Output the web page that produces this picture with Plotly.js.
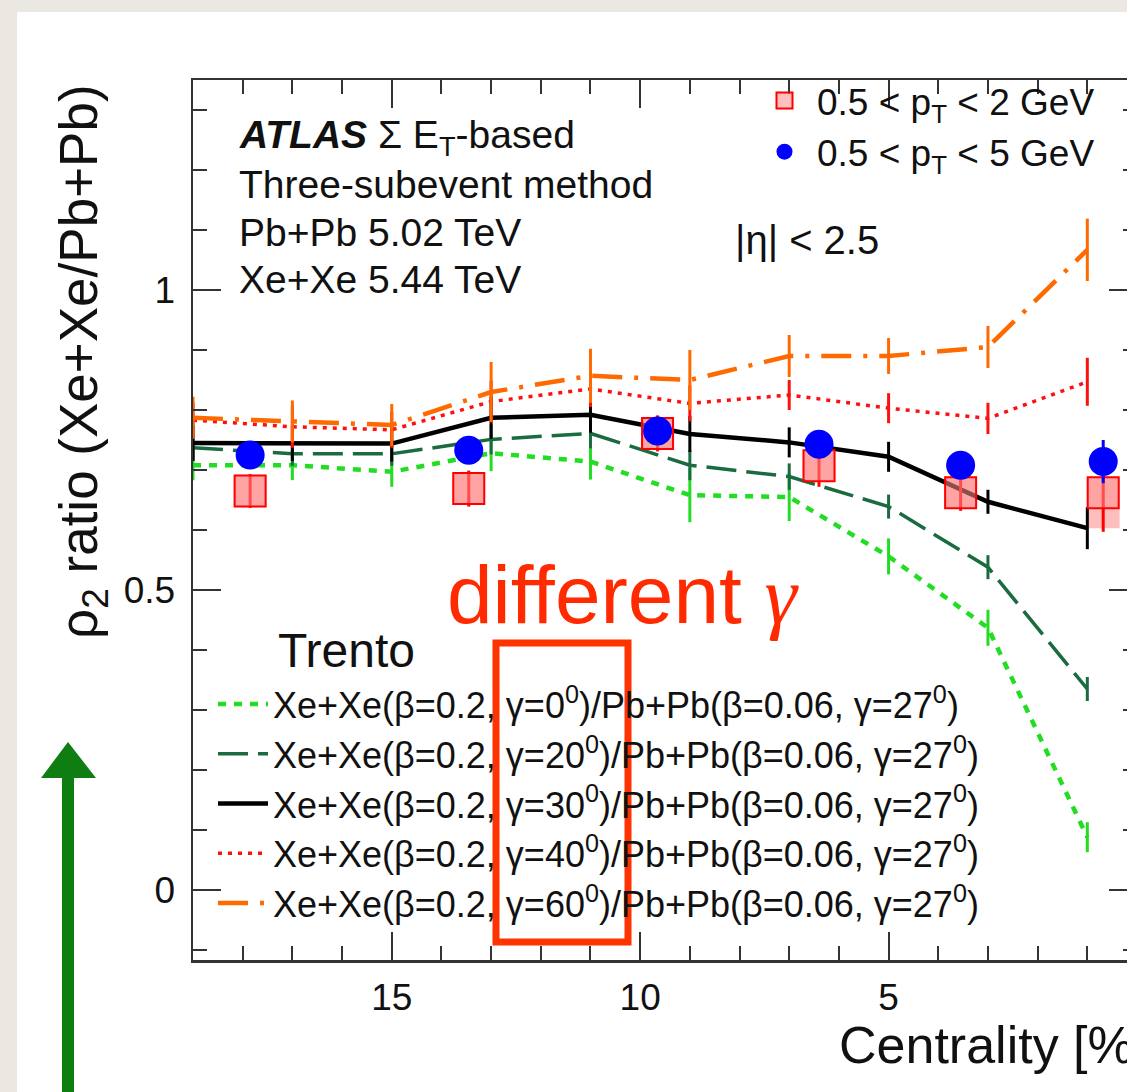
<!DOCTYPE html>
<html>
<head>
<meta charset="utf-8">
<script src="https://cdn.plot.ly/plotly-3.0.1.min.js"></script>
<style>
  html, body { margin:0; padding:0; width:1127px; height:1092px; overflow:hidden; background:#ebe8e2; }
  #panel { position:absolute; left:17px; top:12px; width:1200px; height:1200px; background:#ffffff; }
  #chart { position:absolute; left:0; top:0; width:1160px; height:1092px; }
</style>
</head>
<body>
<div id="panel"></div>
<div id="chart"></div>
<script>
// ---- Trento model curves (centrality %, ratio) ----
const trentoX = [19, 17, 15, 13, 11, 9, 7, 5, 3, 1];
const gamma0  = [0.708, 0.708, 0.697, 0.728, 0.714, 0.658, 0.655, 0.556, 0.437, 0.088];
const gamma0Err  = [0.025, 0.025, 0.025, 0.03, 0.03, 0.045, 0.04, 0.03, 0.03, 0.025];
const gamma20 = [0.737, 0.727, 0.727, 0.751, 0.761, 0.708, 0.689, 0.639, 0.538, 0.335];
const gamma20Err = [0.02, 0.02, 0.02, 0.025, 0.025, 0.025, 0.022, 0.02, 0.02, 0.02];
const gamma30 = [0.745, 0.745, 0.744, 0.787, 0.792, 0.760, 0.746, 0.722, 0.647, 0.603];
const gamma30Err = [0.03, 0.03, 0.03, 0.035, 0.03, 0.03, 0.025, 0.025, 0.02, 0.035];
const gamma40 = [0.783, 0.772, 0.767, 0.814, 0.835, 0.811, 0.825, 0.803, 0.786, 0.847];
const gamma40Err = [0.03, 0.035, 0.03, 0.035, 0.03, 0.03, 0.025, 0.025, 0.026, 0.04];
const gamma60 = [0.787, 0.781, 0.775, 0.830, 0.857, 0.850, 0.890, 0.890, 0.905, 1.067];
const gamma60Err = [0.035, 0.035, 0.035, 0.05, 0.045, 0.05, 0.035, 0.03, 0.035, 0.052];

const trentoNames = [
  "Xe+Xe(β=0.2, γ=0<sup>0</sup>)/Pb+Pb(β=0.06, γ=27<sup>0</sup>)",
  "Xe+Xe(β=0.2, γ=20<sup>0</sup>)/Pb+Pb(β=0.06, γ=27<sup>0</sup>)",
  "Xe+Xe(β=0.2, γ=30<sup>0</sup>)/Pb+Pb(β=0.06, γ=27<sup>0</sup>)",
  "Xe+Xe(β=0.2, γ=40<sup>0</sup>)/Pb+Pb(β=0.06, γ=27<sup>0</sup>)",
  "Xe+Xe(β=0.2, γ=60<sup>0</sup>)/Pb+Pb(β=0.06, γ=27<sup>0</sup>)"
];

// ---- ATLAS data ----
const atlasX = [17.85, 13.45, 9.65, 6.4, 3.55, 0.68];
const ptLow  = [0.665, 0.669, 0.761, 0.707, 0.662, 0.662];   // 0.5<pT<2 GeV
const ptLowErr = [0.028, 0.03, 0.03, 0.035, 0.03, 0.065];
const ptLowSysLo = [0.638, 0.642, 0.734, 0.680, 0.635, 0.603];
const ptLowSysHi = [0.692, 0.696, 0.788, 0.734, 0.689, 0.687];
const ptHigh = [0.725, 0.733, 0.765, 0.743, 0.708, 0.714];   // 0.5<pT<5 GeV
const ptHighErr = [0.01, 0.01, 0.01, 0.01, 0.01, 0.036];
const atlasNames = ["0.5 < p<sub>T</sub> < 2 GeV", "0.5 < p<sub>T</sub> < 5 GeV"];

const FONT = "Liberation Sans, Arial, Helvetica, sans-serif";

function line(y, err, name, color, dash, width) {
  return {
    x: trentoX, y: y, name: name, type: "scatter", mode: "lines",
    line: {color: color, dash: dash, width: width},
    error_y: {type: "data", array: err, color: color, thickness: 3, width: 0},
    legend: "legend", hoverinfo: "skip"
  };
}

const traces = [
  {
    x: atlasX, y: ptLowSysHi.map((h, i) => h - ptLowSysLo[i]), base: ptLowSysLo,
    type: "bar", width: 0.66, marker: {color: "rgba(255,110,110,0.45)", line: {width: 0}},
    showlegend: false, hoverinfo: "skip"
  },
  line(gamma0,  gamma0Err,  trentoNames[0], "#22dd22", "8px,8px", 4.5),
  line(gamma20, gamma20Err, trentoNames[1], "#1a6b40", "30px,10px", 3.5),
  line(gamma30, gamma30Err, trentoNames[2], "#000000", "solid", 4.5),
  line(gamma40, gamma40Err, trentoNames[3], "#ff1010", "4px,6px", 3.5),
  line(gamma60, gamma60Err, trentoNames[4], "#ff6a00", "30px,12px,4px,12px", 4.5),
  {
    x: atlasX, y: ptLow, name: atlasNames[0], type: "scatter", mode: "markers",
    marker: {symbol: "square", size: 31, color: "rgba(255,140,140,0.55)", line: {color: "#ff0000", width: 2}},
    error_y: {type: "data", array: ptLowErr, color: "#ff0000", thickness: 3, width: 0},
    legend: "legend2", hoverinfo: "skip"
  },
  {
    x: atlasX, y: ptHigh, name: atlasNames[1], type: "scatter", mode: "markers",
    marker: {symbol: "circle", size: 29, color: "#0000ff", line: {width: 0}},
    error_y: {type: "data", array: ptHighErr, color: "#0000ff", thickness: 3, width: 0},
    legend: "legend2", hoverinfo: "skip"
  }
];

// pixel -> paper helpers (plot area: x 193..1137, y 80..960)
const PX = x => (x - 193) / 944;
const PY = y => (960 - y) / 880;

const txt = (text, x, y, size, extra) => Object.assign({
  text: text, x: PX(x), y: PY(y), xref: "paper", yref: "paper",
  xanchor: "left", yanchor: "middle", showarrow: false,
  font: {family: FONT, size: size, color: "#111111"}
}, extra || {});

const layout = {
  width: 1160, height: 1092,
  margin: {l: 193, r: 23, t: 80, b: 132},
  paper_bgcolor: "rgba(0,0,0,0)", plot_bgcolor: "#ffffff",
  barmode: "overlay",
  font: {family: FONT, color: "#111111"},
  xaxis: {
    range: [19, 0], tickvals: [15, 10, 5, 0], ticktext: ["15", "10", "5", "0"],
    ticks: "inside", ticklen: 28, tickwidth: 2, tickcolor: "#333333",
    minor: {dtick: 1, tick0: 0, ticks: "inside", ticklen: 14, tickwidth: 2, tickcolor: "#333333"},
    showline: true, linecolor: "#333333", linewidth: 2.5, mirror: "allticks",
    showgrid: false, zeroline: false, ticklabelstandoff: 3,
    tickfont: {family: FONT, size: 37, color: "#111111"}
  },
  yaxis: {
    range: [-0.1167, 1.35], tickvals: [0, 0.5, 1], ticktext: ["0", "0.5", "1"],
    ticks: "inside", ticklen: 28, tickwidth: 2, tickcolor: "#333333",
    minor: {dtick: 0.1, tick0: 0, ticks: "inside", ticklen: 14, tickwidth: 2, tickcolor: "#333333"},
    showline: true, linecolor: "#333333", linewidth: 2.5, mirror: "allticks",
    showgrid: false, zeroline: false, ticklabelstandoff: 8,
    tickfont: {family: FONT, size: 37, color: "#111111"}
  },
  legend: {
    x: PX(213), y: PY(674), xanchor: "left", yanchor: "top",
    bgcolor: "rgba(0,0,0,0)", itemwidth: 50, tracegroupgap: 0,
    font: {family: FONT, size: 36, color: "#111111"}
  },
  legend2: {
    x: PX(752), y: PY(70), xanchor: "left", yanchor: "top",
    bgcolor: "rgba(0,0,0,0)", itemwidth: 55,
    font: {family: FONT, size: 37, color: "#111111"}
  },
  annotations: [
    txt("<b><i>ATLAS</i></b> Σ E<sub>T</sub>-based", 237, 137, 39),
    txt("Three-subevent method", 237, 185, 39),
    txt("Pb+Pb 5.02 TeV", 237, 232, 39),
    txt("Xe+Xe 5.44 TeV", 237, 279, 39),
    txt("|η| < 2.5", 733, 240, 40),
    txt("Trento", 276, 650, 48),
    txt("different <span style=\"font-family:'Liberation Serif', 'DejaVu Serif', serif\"><i>γ</i></span>", 623, 595, 82,
        {xanchor: "center", font: {family: FONT, size: 82, color: "#ff2a00"}}),
    txt("ρ<sub>2</sub> ratio (Xe+Xe/Pb+Pb)", 82, 362, 53, {xanchor: "center", textangle: -90}),
    txt("Centrality [%]", 1150, 1045, 52, {xanchor: "right"})
  ],
  shapes: [
    {type: "rect", xref: "paper", yref: "paper", x0: PX(496), x1: PX(628), y0: PY(643), y1: PY(942),
     line: {color: "#ff3300", width: 7}, fillcolor: "rgba(0,0,0,0)"},
    {type: "path", xref: "paper", yref: "paper",
     path: "M" + PX(68) + "," + PY(742) + " L" + PX(96) + "," + PY(778) + " L" + PX(74) + "," + PY(778) +
           " L" + PX(74) + "," + PY(1100) + " L" + PX(62) + "," + PY(1100) + " L" + PX(62) + "," + PY(778) +
           " L" + PX(41) + "," + PY(778) + " Z",
     fillcolor: "#0e7d12", line: {width: 0}}
  ]
};

Plotly.newPlot("chart", traces, layout, {staticPlot: true, displayModeBar: false});
</script>
</body>
</html>
